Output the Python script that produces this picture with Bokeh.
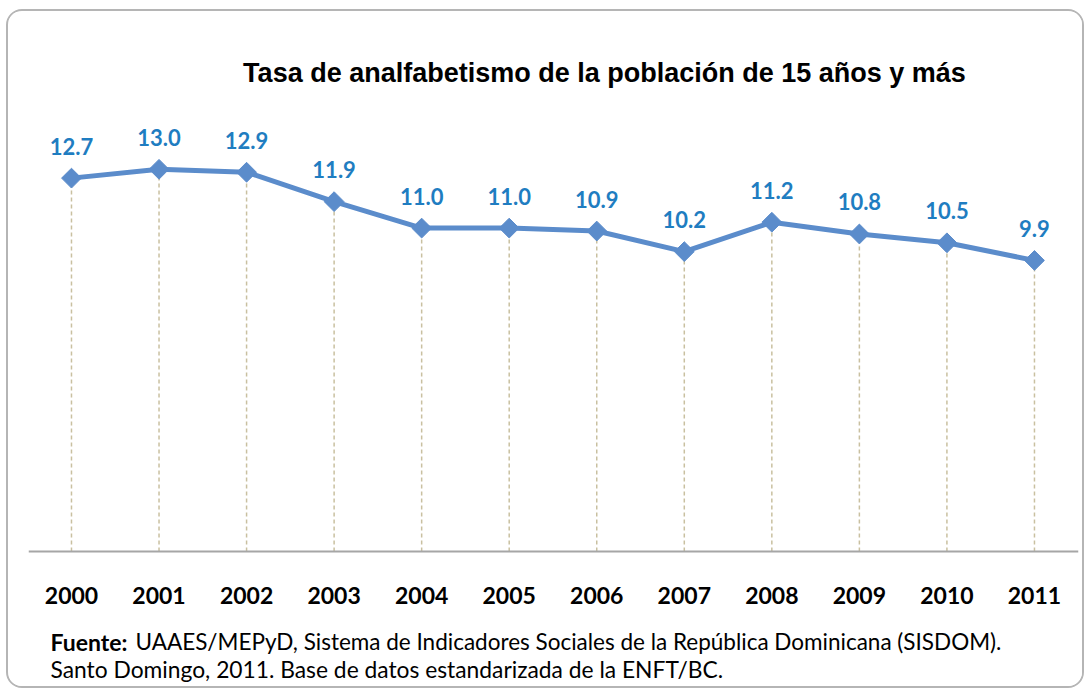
from bokeh.plotting import figure
from bokeh.models import Range1d, FixedTicker, Label, ColumnDataSource
from bokeh.embed import file_html
from bokeh.resources import INLINE
from bokeh.core.properties import value

# ---- data ----
years = [2000, 2001, 2002, 2003, 2004, 2005, 2006, 2007, 2008, 2009, 2010, 2011]
rates = [12.7, 13.0, 12.9, 11.9, 11.0, 11.0, 10.9, 10.2, 11.2, 10.8, 10.5, 9.9]
year_labels = [str(y) for y in years]
title_text = "Tasa de analfabetismo de la población de 15 años y más"
source_bold = "Fuente:"
source_line1 = "UAAES/MEPyD, Sistema de Indicadores Sociales de la República Dominicana (SISDOM)."
source_line2 = "Santo Domingo,  2011. Base de datos estandarizada de la ENFT/BC."

# ---- layout (canvas pixels) ----
W, H = 1078, 679
FL, FR, FT, FB = 20, 1070, 0, H
ZERO_PX = 540          # canvas y of value 0
PX_PER_UNIT = 29.4
x_start, x_end = 1999.509, 2011.503
y_end = ZERO_PX / PX_PER_UNIT
y_start = -(FB - ZERO_PX) / PX_PER_UNIT

def dx(px):
    return x_start + (px - FL) / (FR - FL) * (x_end - x_start)

def dy(py):
    return y_start + (FB - py) / (FB - FT) * (y_end - y_start)

p = figure(width=W, height=H, output_backend="svg", toolbar_location=None,
           x_range=Range1d(x_start, x_end), y_range=Range1d(y_start, y_end),
           min_border_left=FL, min_border_right=W - FR, min_border_top=0,
           min_border_bottom=0)
p.styles = {"border": "2px solid #b5b5b5", "border-radius": "16px",
            "overflow": "hidden", "margin-left": "6px", "margin-top": "9px"}
p.background_fill_color = "white"
p.border_fill_color = "white"
p.outline_line_color = None
p.grid.visible = False
p.yaxis.visible = False

ax = p.xaxis[0]
ax.fixed_location = 0
ax.ticker = FixedTicker(ticks=years)
ax.major_label_overrides = {y: s for y, s in zip(years, year_labels)}
ax.major_tick_line_color = None
ax.minor_tick_line_color = None
ax.axis_line_color = "#a6a6a6"
ax.axis_line_width = 2
ax.major_label_text_font = "Lato"
ax.major_label_text_font_style = "bold"
ax.major_label_text_font_size = "23px"
ax.major_label_text_color = "#000000"
ax.major_label_standoff = 29

src = ColumnDataSource(dict(x=years, y=rates, y0=[0] * len(years),
                            lab=["%.1f" % r for r in rates]))

p.segment(x0="x", y0="y0", x1="x", y1="y", source=src, line_color="#c9c0a0",
          line_width=1.5, line_dash="4 3")
p.line(x="x", y="y", source=src, line_color="#5b8ccb", line_width=5)
p.scatter(x="x", y="y", source=src, marker="square", angle=0.7854, size=14,
          fill_color="#5b8ccb", line_color="#5b8ccb")
p.text(x="x", y="y", text="lab", source=src, y_offset=-32, text_align="center",
       text_baseline="middle", text_font=value("Lato"), text_font_style="bold",
       text_font_size="22px", text_color="#1f7dc1")

p.add_layout(Label(x=dx(596), y=dy(61), text=title_text, text_align="center",
                   text_baseline="middle", text_font="Liberation Sans",
                   text_font_style="bold", text_font_size="27px", text_color="#000000"))
p.add_layout(Label(x=dx(42), y=dy(630), text=source_bold, text_align="left",
                   text_baseline="middle", text_font="Lato", text_font_style="bold",
                   text_font_size="23px", text_color="#000000"))
p.add_layout(Label(x=dx(127), y=dy(630), text=source_line1, text_align="left",
                   text_baseline="middle", text_font="Lato",
                   text_font_size="22.5px", text_color="#000000"))
p.add_layout(Label(x=dx(42), y=dy(657), text=source_line2, text_align="left",
                   text_baseline="middle", text_font="Lato",
                   text_font_size="22.8px", text_color="#000000"))

open("out.html", "w").write(file_html(p, INLINE))
